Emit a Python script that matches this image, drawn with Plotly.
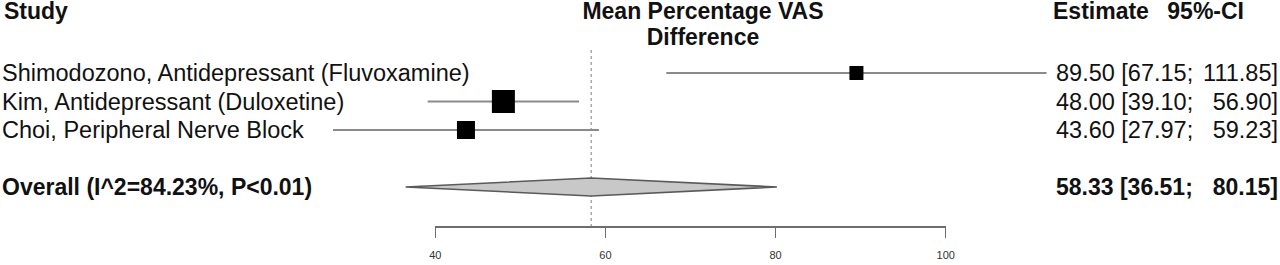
import plotly.graph_objects as go

# ---------------- data ----------------
studies = [
    "Shimodozono, Antidepressant (Fluvoxamine)",
    "Kim, Antidepressant (Duloxetine)",
    "Choi, Peripheral Nerve Block",
]
estimates = [89.50, 48.00, 43.60]
ci_lower = [67.15, 39.10, 27.97]
ci_upper = [111.85, 56.90, 59.23]

pooled_label = "Overall (I^2=84.23%, P<0.01)"
pooled_est = 58.33
pooled_lower = 36.51
pooled_upper = 80.15

axis_ticks = [40, 60, 80, 100]
axis_title = ["Mean Percentage VAS", "Difference"]
col_headers = ["Study", "Estimate", "95%-CI"]

# ---------------- layout helpers ----------------
W, H = 1280, 265
# observed mapping of paper coords to screen pixels: px = OFF + SCALE*W*f
OFF, SCALE = 6.0, 0.9875
PX_PER_UNIT = 8.5          # horizontal scale (screen pixels per unit)
X40_PX = 435               # screen pixel of value 40
ROW_PX0, ROW_STEP = 44.5, 28.5   # pixel y of row i = ROW_PX0 + i*ROW_STEP
AXIS_PX = 227

def paper_x(p):
    return (p - OFF) / (SCALE * W)

def val_at_px(p):
    return 40 + (p - X40_PX) / PX_PER_UNIT

def row_of_px(p):
    return (p - ROW_PX0) / ROW_STEP

x_min = val_at_px(OFF)
x_max = val_at_px(OFF + SCALE * W)
y_bottom = row_of_px(H)
y_top = row_of_px(0)

study_rows = [1, 2, 3]
pooled_row = 5

FONT = "Liberation Sans"
TXT = "#111111"
GREY_LINE = "#8a8a8a"

fig = go.Figure()

# reference (dashed) line at pooled estimate
fig.add_trace(go.Scatter(
    x=[pooled_est, pooled_est], y=[row_of_px(50), row_of_px(AXIS_PX)],
    mode="lines", line=dict(color="#a8a8a8", width=1.5, dash="3px,3px"),
    hoverinfo="skip", showlegend=False))

# CI lines
xs, ys = [], []
for lo, hi, r in zip(ci_lower, ci_upper, study_rows):
    xs += [lo, hi, None]
    ys += [r, r, None]
fig.add_trace(go.Scatter(x=xs, y=ys, mode="lines",
                         line=dict(color=GREY_LINE, width=2),
                         hoverinfo="skip", showlegend=False))

# squares
fig.add_trace(go.Scatter(
    x=estimates, y=study_rows, mode="markers",
    marker=dict(symbol="square", size=[14, 23, 18], color="#000000",
                opacity=1, line=dict(width=0)),
    hoverinfo="skip", showlegend=False))

# pooled diamond
h = 9 / ROW_STEP
fig.add_trace(go.Scatter(
    x=[pooled_lower, pooled_est, pooled_upper, pooled_est, pooled_lower],
    y=[pooled_row, pooled_row - h, pooled_row, pooled_row + h, pooled_row],
    mode="lines", fill="toself", fillcolor="#c8c8c8",
    line=dict(color="#5a5a5a", width=1.5),
    hoverinfo="skip", showlegend=False))

# dummy trace for the visible axis
fig.add_trace(go.Scatter(x=[axis_ticks[0], axis_ticks[-1]], y=[None, None],
                         xaxis="x2", yaxis="y", mode="markers",
                         hoverinfo="skip", showlegend=False))

ann = []
def add_text(text, xpx, ypx=None, row=None, anchor="left", bold=False, boxw=500):
    t = f"<b>{text}</b>" if bold else text
    ann.append(dict(
        text=t, xref="paper", x=paper_x(xpx), yref="y",
        y=row if row is not None else row_of_px(ypx),
        xanchor=anchor, yanchor="middle", showarrow=False,
        align=anchor, width=boxw, borderpad=0, borderwidth=0,
        font=dict(family=FONT, size=23 if bold else 23.5, color=TXT)))

# headers
add_text(col_headers[0], 4, ypx=11, bold=True, boxw=200)
add_text(axis_title[0], 702, ypx=11, anchor="center", bold=True, boxw=320)
add_text(axis_title[1], 702, ypx=37, anchor="center", bold=True, boxw=320)
add_text(col_headers[1], 1052, ypx=11, bold=True, boxw=150)
add_text(col_headers[2], 1243, ypx=11, anchor="right", bold=True, boxw=100)

# study rows
for s, e, lo, hi, r in zip(studies, estimates, ci_lower, ci_upper, study_rows):
    add_text(s, 2, row=r, boxw=500)
    add_text(f"{e:.2f} [{lo:.2f};", 1055, row=r, boxw=160)
    add_text(f"{hi:.2f}]", 1277, row=r, anchor="right", boxw=100)

# pooled row
add_text(pooled_label, 2, row=pooled_row, bold=True, boxw=400)
add_text(f"{pooled_est:.2f} [{pooled_lower:.2f};", 1055, row=pooled_row, bold=True, boxw=160)
add_text(f"{pooled_upper:.2f}]", 1277, row=pooled_row, anchor="right", bold=True, boxw=100)

fig.update_layout(
    width=W, height=H,
    margin=dict(l=0, r=0, t=0, b=0),
    paper_bgcolor="white", plot_bgcolor="rgba(0,0,0,0)",
    showlegend=False,
    annotations=ann,
    xaxis=dict(range=[x_min, x_max], visible=False, fixedrange=True),
    yaxis=dict(range=[y_bottom, y_top], visible=False, fixedrange=True),
    xaxis2=dict(
        domain=[paper_x(X40_PX), paper_x(X40_PX + 60 * PX_PER_UNIT)],
        range=[axis_ticks[0], axis_ticks[-1]],
        anchor="free", position=1 - AXIS_PX / H,
        showline=True, linecolor="#6e6e6e", linewidth=2,
        ticks="outside", ticklen=10, tickwidth=1.5, tickcolor="#6e6e6e",
        tickvals=axis_ticks, ticktext=[str(t) for t in axis_ticks],
        tickfont=dict(family=FONT, size=11, color="#333333"),
        ticklabelstandoff=8,
        showgrid=False, zeroline=False, fixedrange=True),
)

fig.write_html(
    "out.html",
    config={"displayModeBar": False, "staticPlot": True},
    post_script="document.body.style.margin='0';document.body.style.overflow='hidden';",
)
